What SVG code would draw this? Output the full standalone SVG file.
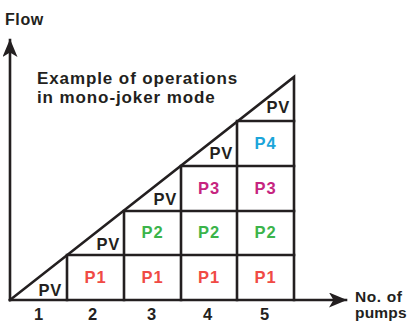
<svg xmlns="http://www.w3.org/2000/svg" width="409" height="323" viewBox="0 0 409 323">
<defs>
<marker id="arr" markerWidth="18" markerHeight="15" viewBox="0 0 18 15" refX="17" refY="7.5" orient="auto" markerUnits="userSpaceOnUse">
<path d="M0,0 L18,7.5 L0,15 L4.5,7.5 Z" fill="#231f20"/>
</marker>
</defs>
<style>
.ln{stroke:#231f20;stroke-width:2.6;fill:none;stroke-linecap:square}
.t{font-family:"Liberation Sans",Arial,sans-serif;font-weight:bold;fill:#231f20}
.lb{font-size:16.5px;text-anchor:middle;letter-spacing:0.8px}
.pv{font-size:16.5px;text-anchor:end;letter-spacing:0.8px}
.p1{fill:#f04a44}.p2{fill:#3bb44a}.p3{fill:#c6247f}.p4{fill:#1ba5da}
</style>
<rect width="409" height="323" fill="#fff"/>
<g id="connectors">
<line class="ln" x1="10" y1="300" x2="10" y2="40" marker-end="url(#arr)"/>
<line class="ln" x1="10" y1="300" x2="346" y2="300" marker-end="url(#arr)"/>
<path class="ln" d="M10,300 L294,77 L294,300"/>
<path class="ln" d="M67,300 V255 M124,300 V211 M181,300 V166 M237,300 V121 M67,255 H294 M124,211 H294 M181,166 H294 M237,121 H294"/>
</g>
<g id="title">
<text class="t" x="5" y="25" font-size="16" letter-spacing="0.6">Flow</text>
<text class="t" font-size="17" letter-spacing="0.9"><tspan x="37" y="84">Example of operations</tspan><tspan x="37" y="103">in mono-joker mode</tspan></text>
</g>
<g id="pv">
<text class="t pv" x="62" y="296">PV</text>
<text class="t pv" x="120" y="250">PV</text>
<text class="t pv" x="177" y="205">PV</text>
<text class="t pv" x="233" y="159">PV</text>
<text class="t pv" x="290" y="113">PV</text>
</g>
<g id="p1">
<text class="t lb p1" x="95.5" y="283">P1</text>
<text class="t lb p1" x="152.5" y="283">P1</text>
<text class="t lb p1" x="209" y="283">P1</text>
<text class="t lb p1" x="265.5" y="283">P1</text>
</g>
<g id="p2">
<text class="t lb p2" x="152.5" y="238">P2</text>
<text class="t lb p2" x="209" y="238">P2</text>
<text class="t lb p2" x="265.5" y="238">P2</text>
</g>
<g id="p3">
<text class="t lb p3" x="209" y="194">P3</text>
<text class="t lb p3" x="265.5" y="194">P3</text>
</g>
<g id="p4">
<text class="t lb p4" x="265.5" y="149">P4</text>
</g>
<g id="axis-labels">
<text class="t lb" x="39" y="320" font-size="16">1</text>
<text class="t lb" x="93" y="320" font-size="16">2</text>
<text class="t lb" x="152" y="320" font-size="16">3</text>
<text class="t lb" x="208" y="320" font-size="16">4</text>
<text class="t lb" x="265" y="320" font-size="16">5</text>
<text class="t" font-size="15.5"><tspan x="355" y="302" letter-spacing="0.6">No. of</tspan><tspan x="355" y="318" letter-spacing="0.2">pumps</tspan></text>
</g>
</svg>
